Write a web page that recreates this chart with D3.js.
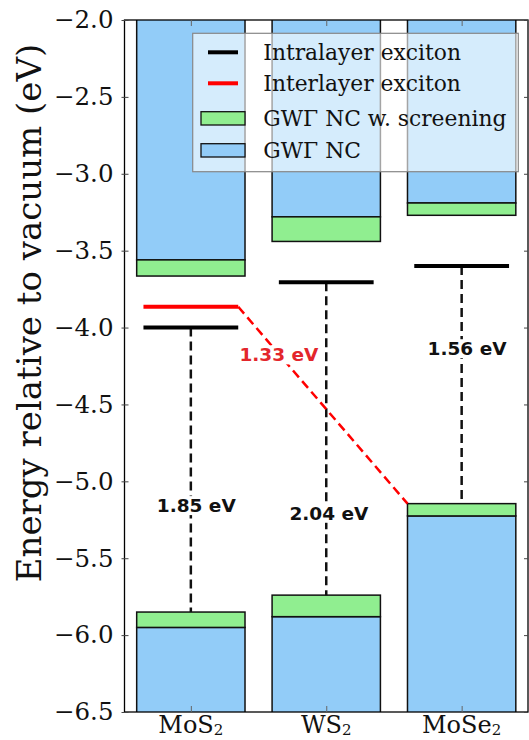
<!DOCTYPE html>
<html><head><meta charset="utf-8">
<script src="https://cdn.jsdelivr.net/npm/d3@7"></script>
<style>body{margin:0;background:#fff}svg{display:block}</style>
</head><body>
<svg id="chart" width="529" height="740"></svg>
<script>
// ---- data ----
const materials = ["MoS", "WS", "MoSe"];          // subscript "2" appended
const cbmNC   = [-3.56, -3.28, -3.19];            // GWΓ NC conduction band edge
const cbmScr  = [-3.665, -3.44, -3.27];           // GWΓ NC w. screening
const vbmNC   = [-5.95, -5.88, -5.225];           // GWΓ NC valence band edge
const vbmScr  = [-5.85, -5.74, -5.145];           // GWΓ NC w. screening
const intraExciton = [-4.0, -3.705, -3.60];       // intralayer exciton level
const interExciton = -3.865;                      // interlayer exciton (MoS2 -> MoSe2)
const gapLabels = ["1.85 eV", "2.04 eV", "1.56 eV"];
const interLabel = "1.33 eV";
const yTicks = [-2.0, -2.5, -3.0, -3.5, -4.0, -4.5, -5.0, -5.5, -6.0, -6.5];
const legendLabels = ["Intralayer exciton", "Interlayer exciton", "GWΓ NC w. screening", "GWΓ NC"];

// ---- layout ----
const gapLabelPos = [[0.04, -5.2], [1.02, -5.25], [2.04, -4.18]];
const interLabelPos = [0.65, -4.22];
const C = {blue: "#92CCF8", green: "#90EE90", red: "#ff0000", redText: "#e3262c"};

const svg = d3.select("#chart");
const L = 124.5, R = 528, T = 20, B = 712;
const x = d3.scaleLinear().domain([-0.49, 2.49]).range([L, R]);
const y = d3.scaleLinear().domain([-6.5, -2.0]).range([B, T]);
const bw = 0.8, lw = 0.35;
const idx = d3.range(materials.length);

const g = svg.append("g");
g.append("defs").append("clipPath").attr("id", "clip")
  .append("rect").attr("x", L).attr("y", T).attr("width", R - L).attr("height", B - T);
const plot = g.append("g").attr("clip-path", "url(#clip)");

// conduction side bars
plot.selectAll(".cbBlue").data(idx).join("rect")
  .attr("x", i => x(i - bw / 2)).attr("width", x(bw) - x(0))
  .attr("y", y(-2.0) - 5).attr("height", i => y(cbmNC[i]) - y(-2.0) + 5)
  .attr("fill", C.blue).attr("stroke", "#111").attr("stroke-width", 1.5);
plot.selectAll(".cbGreen").data(idx).join("rect")
  .attr("x", i => x(i - bw / 2)).attr("width", x(bw) - x(0))
  .attr("y", i => y(cbmNC[i])).attr("height", i => y(cbmScr[i]) - y(cbmNC[i]))
  .attr("fill", C.green).attr("stroke", "#111").attr("stroke-width", 1.5);
// valence side bars
plot.selectAll(".vbBlue").data(idx).join("rect")
  .attr("x", i => x(i - bw / 2)).attr("width", x(bw) - x(0))
  .attr("y", i => y(vbmNC[i])).attr("height", i => y(-6.5) - y(vbmNC[i]) + 5)
  .attr("fill", C.blue).attr("stroke", "#111").attr("stroke-width", 1.5);
plot.selectAll(".vbGreen").data(idx).join("rect")
  .attr("x", i => x(i - bw / 2)).attr("width", x(bw) - x(0))
  .attr("y", i => y(vbmScr[i])).attr("height", i => y(vbmNC[i]) - y(vbmScr[i]))
  .attr("fill", C.green).attr("stroke", "#111").attr("stroke-width", 1.5);

// dashed gap lines
plot.selectAll(".gapLine").data(idx).join("line")
  .attr("x1", i => x(i)).attr("x2", i => x(i))
  .attr("y1", i => y(intraExciton[i])).attr("y2", i => y(vbmScr[i]))
  .attr("stroke", "#111").attr("stroke-width", 2.5).attr("stroke-dasharray", "9,5");
// interlayer dashed line
plot.append("line")
  .attr("x1", x(0 + lw)).attr("y1", y(interExciton))
  .attr("x2", x(2 - bw / 2)).attr("y2", y(vbmScr[2]))
  .attr("stroke", C.red).attr("stroke-width", 2.5).attr("stroke-dasharray", "9,5");

// exciton levels
plot.selectAll(".intra").data(idx).join("line")
  .attr("x1", i => x(i - lw)).attr("x2", i => x(i + lw))
  .attr("y1", i => y(intraExciton[i])).attr("y2", i => y(intraExciton[i]))
  .attr("stroke", "#000").attr("stroke-width", 4);
plot.append("line")
  .attr("x1", x(-lw)).attr("x2", x(lw))
  .attr("y1", y(interExciton)).attr("y2", y(interExciton))
  .attr("stroke", C.red).attr("stroke-width", 4);

// gap text labels with white background
function label(txt, px, py, color) {
  const gg = plot.append("g");
  const t = gg.append("text").attr("x", x(px)).attr("y", y(py))
    .attr("text-anchor", "middle")
    .attr("font-family", "'DejaVu Sans', sans-serif").attr("font-weight", "bold")
    .attr("font-size", 18.5).attr("fill", color).text(txt);
  const bb = t.node().getBBox();
  gg.insert("rect", "text").attr("x", bb.x - 2).attr("y", bb.y + 1)
    .attr("width", bb.width + 4).attr("height", bb.height - 2).attr("fill", "#fff");
}
idx.forEach(i => label(gapLabels[i], gapLabelPos[i][0], gapLabelPos[i][1], "#111"));
label(interLabel, interLabelPos[0], interLabelPos[1], C.redText);

// frame
g.append("rect").attr("x", L).attr("y", T).attr("width", R - L).attr("height", B - T)
  .attr("fill", "none").attr("stroke", "#000").attr("stroke-width", 1.3);

// axes
const font = "'DejaVu Serif', serif";
const yAxis = g.append("g").attr("transform", `translate(${L},0)`)
  .call(d3.axisLeft(y).tickValues(yTicks).tickSize(4).tickPadding(7)
    .tickFormat(d => d3.format(".1f")(d).replace("-", "\u2212")));
yAxis.select(".domain").remove();
yAxis.selectAll("text").attr("font-family", font).attr("font-size", 24.5).attr("fill", "#111");
yAxis.selectAll(".tick line").attr("x2", 4).attr("x1", -3).attr("stroke", "#444");
const yAxisR = g.append("g").attr("transform", `translate(${R},0)`)
  .call(d3.axisLeft(y).tickValues(yTicks).tickSize(4).tickFormat(""));
yAxisR.select(".domain").remove();
yAxisR.selectAll(".tick line").attr("stroke", "#444");

const xAxis = g.append("g").attr("transform", `translate(0,${B})`)
  .call(d3.axisTop(x).tickValues(idx).tickSize(6).tickFormat(""));
xAxis.select(".domain").remove();
xAxis.selectAll(".tick line").attr("stroke", "#666");
const xAxisT = g.append("g").attr("transform", `translate(0,${T})`)
  .call(d3.axisBottom(x).tickValues(idx).tickSize(6).tickFormat(""));
xAxisT.select(".domain").remove();
xAxisT.selectAll(".tick line").attr("stroke", "#666");

// x labels with subscript
const xl = g.selectAll(".xlab").data(idx).join("text")
  .attr("x", i => x(i)).attr("y", 733).attr("text-anchor", "middle")
  .attr("font-family", font).attr("font-size", 24).attr("fill", "#111");
xl.append("tspan").text(i => materials[i]);
xl.append("tspan").attr("font-size", 15).attr("dy", 2).text("2");

// y label
g.append("text").attr("transform", `translate(41,313) rotate(-90)`)
  .attr("text-anchor", "middle").attr("font-family", font).attr("font-size", 34)
  .attr("fill", "#111").text("Energy relative to vacuum (eV)");

// legend
const lg = g.append("g");
lg.append("rect").attr("x", 192.7).attr("y", 33.3).attr("width", 325.6).attr("height", 138.4)
  .attr("fill", "#fff").attr("fill-opacity", 0.62).attr("stroke", "#888").attr("stroke-width", 1.2);
const rowY = [52.3, 83.3, 118.3, 150.3];
lg.append("line").attr("x1", 208).attr("x2", 238).attr("y1", rowY[0]).attr("y2", rowY[0])
  .attr("stroke", "#000").attr("stroke-width", 4);
lg.append("line").attr("x1", 208).attr("x2", 238).attr("y1", rowY[1]).attr("y2", rowY[1])
  .attr("stroke", C.red).attr("stroke-width", 4);
lg.append("rect").attr("x", 201).attr("y", rowY[2] - 6.6).attr("width", 44).attr("height", 13.3)
  .attr("fill", C.green).attr("stroke", "#111").attr("stroke-width", 1.3);
lg.append("rect").attr("x", 201).attr("y", rowY[3] - 6.6).attr("width", 44).attr("height", 13.3)
  .attr("fill", C.blue).attr("stroke", "#111").attr("stroke-width", 1.3);
lg.selectAll(".lt").data(legendLabels).join("text")
  .attr("x", 263.3).attr("y", (d, i) => rowY[i] + 7.5)
  .attr("font-family", font).attr("font-size", 21.8).attr("fill", "#111").text(d => d);
</script>
</body></html>
